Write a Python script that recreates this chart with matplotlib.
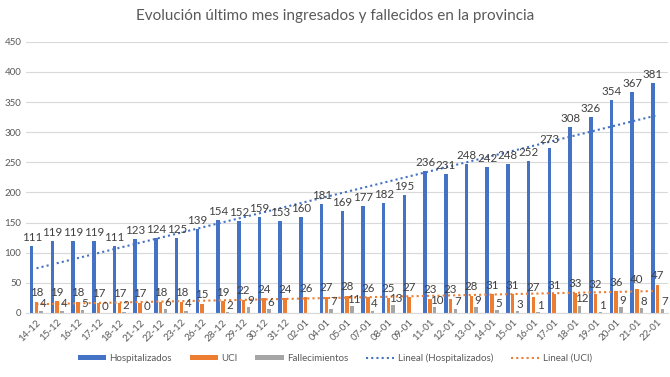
import numpy as np
import matplotlib
matplotlib.use("Agg")
import matplotlib.pyplot as plt

plt.rcParams['font.family'] = ['Lato', 'DejaVu Sans']

fechas = ["14-12", "15-12", "16-12", "17-12", "18-12", "21-12", "22-12", "23-12",
          "26-12", "28-12", "29-12", "30-12", "31-12", "02-01", "04-01", "05-01",
          "07-01", "08-01", "09-01", "11-01", "12-01", "13-01", "14-01", "15-01",
          "16-01", "17-01", "18-01", "19-01", "20-01", "21-01", "22-01"]
hospitalizados = [111, 119, 119, 119, 111, 123, 124, 125, 139, 154, 152, 159, 153,
                  160, 181, 169, 177, 182, 195, 236, 231, 248, 242, 248, 252, 273,
                  308, 326, 354, 367, 381]
uci = [18, 19, 18, 17, 17, 17, 18, 18, 15, 19, 22, 24, 24, 26, 27, 28, 26, 25, 27,
       23, 23, 28, 31, 31, 27, 31, 33, 32, 36, 40, 47]
fallecimientos = [4, 4, 5, 0, 2, 0, 6, 4, None, 2, 9, 6, None, None, 7, 11, 4, 13,
                  None, 10, 7, 9, 5, 3, 1, None, 12, 1, 9, 8, 7]

azul = "#4472C4"
naranja = "#ED7D31"
gris = "#A5A5A5"
texto = "#404040"

x = np.arange(len(fechas))
fall = np.array([np.nan if v is None else v for v in fallecimientos], dtype=float)

fig = plt.figure(figsize=(6.7, 3.77), dpi=100)
ax = fig.add_axes([0.039, 0.170, 0.958, 0.719])

w = 0.17
off = 0.23
b1 = ax.bar(x - off, hospitalizados, w, color=azul, label="Hospitalizados", zorder=2)
b2 = ax.bar(x, uci, w, color=naranja, label="UCI", zorder=2)
b3 = ax.bar(x + off, np.nan_to_num(fall), w, color=gris, label="Fallecimientos", zorder=2)

# lineas de tendencia
p_h = np.polyfit(x, hospitalizados, 1)
p_u = np.polyfit(x, uci, 1)
l1, = ax.plot(x, np.polyval(p_h, x), color=azul, ls=(0, (1, 1.5)), lw=1.5,
              label="Lineal (Hospitalizados)", zorder=3)
l2, = ax.plot(x, np.polyval(p_u, x), color=naranja, ls=(0, (1, 1.5)), lw=1.5,
              label="Lineal (UCI)", zorder=3)

# etiquetas de datos
for i in x:
    ax.text(i - off, hospitalizados[i] + 5, str(hospitalizados[i]), ha="center",
            va="bottom", fontsize=8.3, color=texto)
    ax.text(i, uci[i] + 6, str(uci[i]), ha="center", va="bottom", fontsize=8.3,
            color=texto)
    if not np.isnan(fall[i]):
        ax.text(i + off + 0.1, fall[i] + 2, str(int(fall[i])), ha="center",
                va="bottom", fontsize=8.3, color=texto)

ax.set_xlim(-0.5, len(fechas) - 0.5)
ax.set_ylim(0, 450)
ax.set_yticks(range(0, 451, 50))
ax.yaxis.grid(True, color="#D9D9D9", lw=0.8, zorder=0)
ax.set_axisbelow(True)
for s in ["top", "right", "left"]:
    ax.spines[s].set_visible(False)
ax.spines["bottom"].set_color("#D9D9D9")
ax.tick_params(axis="both", length=0, colors="#595959", labelsize=7)
ax.set_xticks(x)
ax.set_xticklabels(fechas, rotation=45, ha="right", rotation_mode="anchor")

fig.suptitle("Evolución último mes ingresados y fallecidos en la provincia",
             y=0.975, fontsize=11, color="#595959")

fig.legend([b1, b2, b3, l1, l2],
           ["Hospitalizados", "UCI", "Fallecimientos", "Lineal (Hospitalizados)",
            "Lineal (UCI)"],
           loc="center", bbox_to_anchor=(0.5, 0.05), ncol=5, frameon=False,
           fontsize=7, labelcolor="#595959", handlelength=2.9, handleheight=0.5,
           handletextpad=0.4, columnspacing=1.8)

fig.savefig("out.png", dpi=100)
